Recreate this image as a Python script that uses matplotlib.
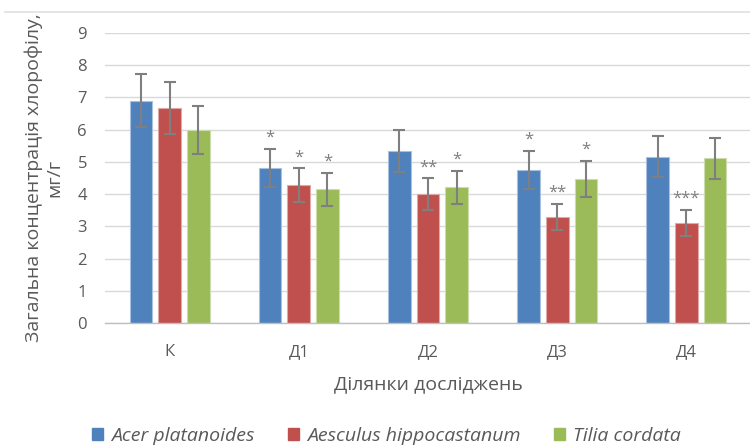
import numpy as np
import matplotlib.pyplot as plt
from matplotlib.lines import Line2D

plt.rcParams['font.family'] = ['Open Sans', 'DejaVu Sans']

# data ---
cats = ['К', 'Д1', 'Д2', 'Д3', 'Д4']
species = ['Acer platanoides', 'Aesculus hippocastanum', 'Tilia cordata']
acer = [6.90, 4.81, 5.35, 4.75, 5.16]
aesc = [6.67, 4.29, 4.00, 3.30, 3.11]
tilia = [6.00, 4.15, 4.21, 4.47, 5.11]
acer_err = [0.83, 0.60, 0.65, 0.59, 0.64]
aesc_err = [0.81, 0.52, 0.50, 0.40, 0.40]
tilia_err = [0.74, 0.52, 0.52, 0.56, 0.63]
acer_sig = ['', '*', '', '*', '']
aesc_sig = ['', '*', '**', '**', '***']
tilia_sig = ['', '*', '*', '*', '']
#---

colors = ['#4F81BD', '#C0504D', '#9BBB59']
edges = ['#a9c1e0', '#e0a8a6', '#cddcac']
txt = '#595959'

fig = plt.figure(figsize=[7.5, 4.48], dpi=100)
ax = fig.add_axes([105/750, 1-323/448, 646/750, 290/448])

x = np.arange(len(cats))
w = 0.175
step = 0.222
series = [(acer, acer_err, acer_sig), (aesc, aesc_err, aesc_sig), (tilia, tilia_err, tilia_sig)]
for i, (vals, err, sig) in enumerate(series):
    xs = x + (i-1)*step
    ax.bar(xs, vals, width=w, color=colors[i], edgecolor=edges[i], linewidth=0.8, zorder=2)
    ax.errorbar(xs, vals, yerr=err, fmt='none', ecolor='#7f7f7f', elinewidth=1.5,
                capsize=4.5, capthick=1.5, zorder=3)
    for xi, v, e, s in zip(xs, vals, err, sig):
        if s:
            ax.annotate(s, (xi, v+e), xytext=(0, 2), textcoords='offset points',
                        ha='center', va='bottom', fontsize=12, color='#7f7f7f')

ax.set_xlim(-0.5, 4.5)
ax.set_ylim(0, 9)
ax.set_yticks(range(10))
ax.set_xticks(x)
ax.set_xticklabels(cats)
ax.grid(axis='y', color='#d9d9d9', linewidth=1, zorder=0)
ax.set_axisbelow(True)
for sp in ['top', 'right', 'left']:
    ax.spines[sp].set_visible(False)
ax.spines['bottom'].set_color('#bfbfbf')
ax.spines['bottom'].set_linewidth(1)
ax.tick_params(axis='both', length=0, labelsize=12, labelcolor=txt)
ax.tick_params(axis='y', pad=13)
ax.tick_params(axis='x', pad=15)
ax.set_xlabel('Ділянки досліджень', fontsize=14, color=txt, labelpad=11)

fig.text(44/750, 1-178/448, 'Загальна концентрація хлорофілу,\nмг/г', rotation=90,
         ha='center', va='center', multialignment='center', fontsize=14, color=txt,
         linespacing=1.15)

# top border line
fig.add_artist(Line2D([5/750, 1], [1-12/448, 1-12/448], color='#e0e0e0', linewidth=1.2))

handles = [plt.Rectangle((0, 0), 1, 1, color=c) for c in colors]
leg = fig.legend(handles, species, loc='center', bbox_to_anchor=(0.515, 1-436/448), ncol=3,
                 frameon=False, fontsize=14, handlelength=0.6, handleheight=0.6,
                 handletextpad=0.4, columnspacing=1.7)
for t in leg.get_texts():
    t.set_color(txt)
    t.set_style('italic')

plt.savefig('out.png', dpi=100)
